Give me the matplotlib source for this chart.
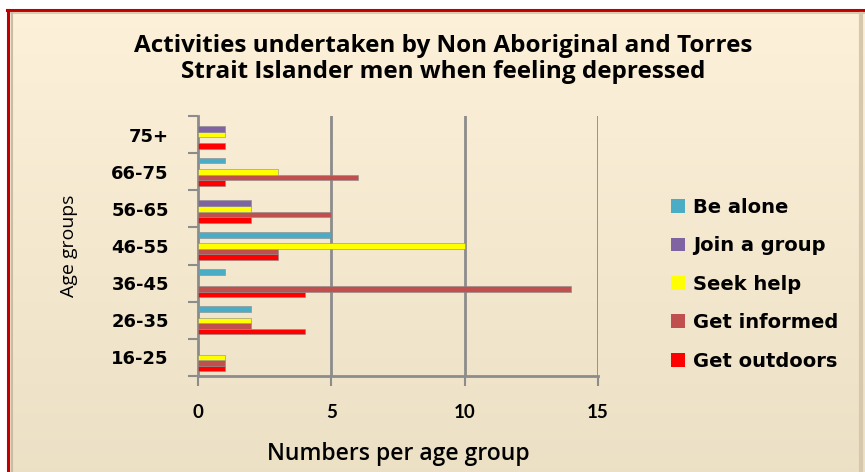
import numpy as np
import matplotlib.pyplot as plt
from matplotlib.patches import Rectangle

# age groups, bottom to top as drawn
ages = ["16-25", "26-35", "36-45", "46-55", "56-65", "66-75", "75+"]

get_outdoors = [1, 4, 4, 3, 2, 1, 1]
get_informed = [1, 2, 14, 3, 5, 6, 0]
seek_help = [1, 2, 0, 10, 2, 3, 1]
join_group = [0, 0, 0, 0, 2, 0, 1]
be_alone = [0, 2, 1, 5, 0, 1, 0]

series = [
    ("Get outdoors", get_outdoors, "#FF0000"),
    ("Get informed", get_informed, "#C0504D"),
    ("Seek help", seek_help, "#FFFF00"),
    ("Join a group", join_group, "#8064A2"),
    ("Be alone", be_alone, "#4BACC6"),
]

fig = plt.figure(figsize=(8.65, 4.72), dpi=100)

# background gradient + frame
bg = fig.add_axes([0, 0, 1, 1], zorder=-10)
grad = np.linspace(0, 1, 256).reshape(-1, 1)
top = np.array([0.992, 0.945, 0.855])
bot = np.array([0.925, 0.878, 0.773])
img = top[None, None, :] * (1 - grad[:, :, None]) + bot[None, None, :] * grad[:, :, None]
bg.imshow(img, aspect="auto", extent=[0, 865, 0, 472], origin="upper")
bg.set_xlim(0, 865)
bg.set_ylim(0, 472)
bg.axis("off")
bg.add_patch(Rectangle((0, 461), 865, 11, color="white", zorder=2))
bg.add_patch(Rectangle((0, 0), 6, 472, color="white", zorder=2))
bg.plot([7, 865], [462, 462], color="#C00000", lw=2.2, zorder=3)
bg.plot([8, 8], [0, 462], color="#C00000", lw=2.2, zorder=3)
bg.plot([11, 865], [459, 459], color="#D8CBB0", lw=1.5, zorder=3)
bg.plot([11.5, 11.5], [0, 459], color="#C8BCA4", lw=1.5, zorder=3)
bg.plot([861, 861], [0, 458], color="#D5C8AC", lw=3, zorder=3)

ax = fig.add_axes([198 / 865, 1 - 376 / 472, 400 / 865, 260 / 472])
ax.patch.set_alpha(0)

y = np.arange(len(ages))
h = 0.15
offsets = [-0.3, -0.15, 0, 0.15, 0.3]
for (name, vals, col), off in zip(series, offsets):
    ax.barh(y + off, vals, height=h, color=col, edgecolor="#8a8a8a",
            linewidth=0.4, label=name, zorder=3)

ax.set_xlim(0, 15)
ax.set_ylim(-0.5, 6.5)
ax.set_xticks([0, 5, 10, 15])
ax.set_xticklabels(["0", "5", "10", "15"])
ax.set_yticks(np.arange(-0.5, 7, 1))
ax.set_yticklabels([])
ax.set_yticks(y, minor=True)
ax.set_yticklabels(ages, minor=True)
ax.tick_params(axis="y", which="minor", length=0, pad=21)
ax.tick_params(axis="y", which="major", length=7, width=1.5, color="#8C8C8C")
ax.tick_params(axis="x", length=7, width=1.5, color="#8C8C8C", pad=13)
for lab in ax.get_yticklabels(minor=True):
    lab.set_fontfamily("DejaVu Sans")
    lab.set_fontweight("bold")
    lab.set_fontsize(13)
for lab in ax.get_xticklabels():
    lab.set_fontfamily("Lato")
    lab.set_fontweight("bold")
    lab.set_fontsize(13.5)

for xv in [5, 10, 15]:
    ax.axvline(xv, color="#8C8C8C", lw=2, zorder=1)
for s in ["top", "right"]:
    ax.spines[s].set_visible(False)
ax.spines["left"].set_color("#8C8C8C")
ax.spines["left"].set_linewidth(2)
ax.spines["bottom"].set_color("#8C8C8C")
ax.spines["bottom"].set_linewidth(2)

ax.set_xlabel("Numbers per age group", fontfamily="Open Sans", fontweight="semibold",
              fontsize=16.5, labelpad=15)
ax.set_ylabel("Age groups", fontfamily="Open Sans", fontsize=14, labelpad=24)

fig.text(0.512, 0.875, "Activities undertaken by Non Aboriginal and Torres\nStrait Islander men when feeling depressed",
         ha="center", va="center", fontfamily="Open Sans", fontweight="bold", fontsize=17.5,
         linespacing=1.12)

handles, labels = ax.get_legend_handles_labels()
leg = fig.legend(handles[::-1], labels[::-1], loc="center left",
                 bbox_to_anchor=(0.756, 0.398), frameon=False,
                 prop={"family": "DejaVu Sans", "weight": "bold", "size": 14},
                 handlelength=0.7, handleheight=0.7, handletextpad=0.4,
                 labelspacing=1.0)
for p in leg.get_patches():
    p.set_edgecolor("none")

fig.savefig("out.png", dpi=100)
